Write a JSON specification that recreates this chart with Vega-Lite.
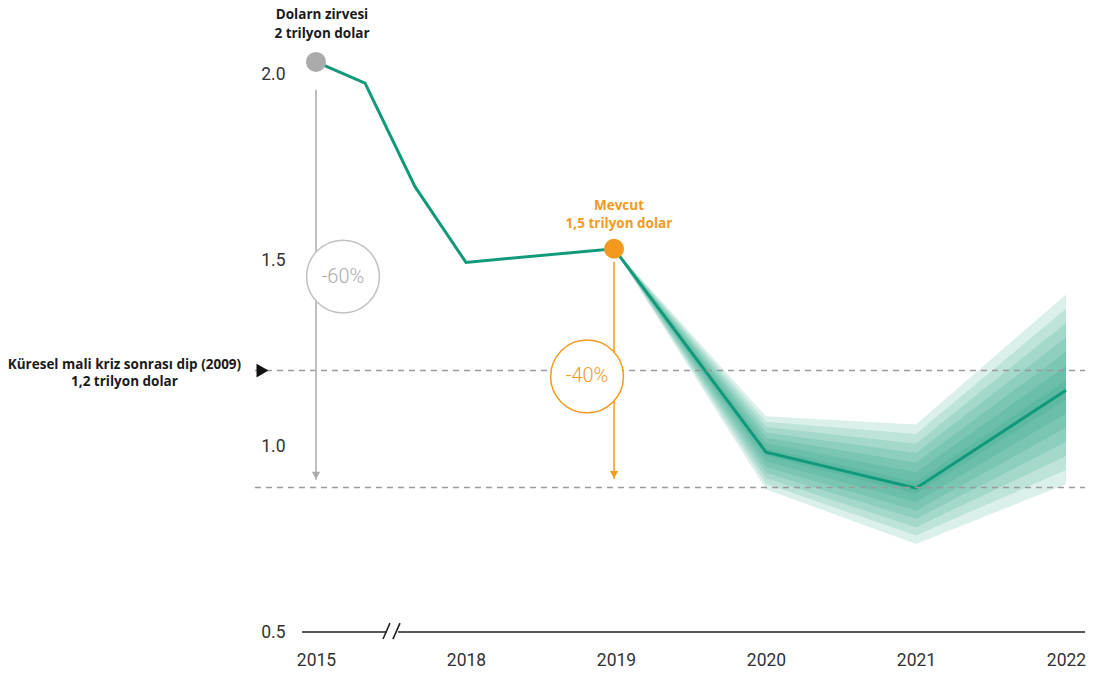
{
  "$schema": "https://vega.github.io/schema/vega-lite/v6.json",
  "autosize": "none",
  "width": 783,
  "height": 621,
  "padding": {"left": 302, "top": 11, "right": 9, "bottom": 41},
  "background": "white",
  "config": {"view": {"stroke": null}, "font": "Roboto"},
  "datasets": {
    "series": [
      {"x": 0, "value": 2.035},
      {"x": 0.327, "value": 1.978},
      {"x": 0.66, "value": 1.699},
      {"x": 1, "value": 1.495},
      {"x": 1.987, "value": 1.532},
      {"x": 3, "value": 0.984},
      {"x": 4, "value": 0.887},
      {"x": 5, "value": 1.151}
    ],
    "bands": [
      {"band": "b1", "x": 1.987, "lo": 1.532, "hi": 1.532},
      {"band": "b1", "x": 3, "lo": 0.884, "hi": 1.081},
      {"band": "b1", "x": 4, "lo": 0.737, "hi": 1.059},
      {"band": "b1", "x": 5, "lo": 0.898, "hi": 1.409},
      {"band": "b2", "x": 1.987, "lo": 1.532, "hi": 1.532},
      {"band": "b2", "x": 3, "lo": 0.899, "hi": 1.066},
      {"band": "b2", "x": 4, "lo": 0.76, "hi": 1.033},
      {"band": "b2", "x": 5, "lo": 0.936, "hi": 1.37},
      {"band": "b3", "x": 1.987, "lo": 1.532, "hi": 1.532},
      {"band": "b3", "x": 3, "lo": 0.914, "hi": 1.052},
      {"band": "b3", "x": 4, "lo": 0.782, "hi": 1.007},
      {"band": "b3", "x": 5, "lo": 0.974, "hi": 1.332},
      {"band": "b4", "x": 1.987, "lo": 1.532, "hi": 1.532},
      {"band": "b4", "x": 3, "lo": 0.929, "hi": 1.037},
      {"band": "b4", "x": 4, "lo": 0.805, "hi": 0.982},
      {"band": "b4", "x": 5, "lo": 1.012, "hi": 1.293},
      {"band": "b5", "x": 1.987, "lo": 1.532, "hi": 1.532},
      {"band": "b5", "x": 3, "lo": 0.944, "hi": 1.023},
      {"band": "b5", "x": 4, "lo": 0.827, "hi": 0.956},
      {"band": "b5", "x": 5, "lo": 1.05, "hi": 1.254},
      {"band": "b6", "x": 1.987, "lo": 1.532, "hi": 1.532},
      {"band": "b6", "x": 3, "lo": 0.959, "hi": 1.008},
      {"band": "b6", "x": 4, "lo": 0.85, "hi": 0.93},
      {"band": "b6", "x": 5, "lo": 1.088, "hi": 1.216},
      {"band": "b7", "x": 1.987, "lo": 1.532, "hi": 1.532},
      {"band": "b7", "x": 3, "lo": 0.974, "hi": 0.994},
      {"band": "b7", "x": 4, "lo": 0.872, "hi": 0.904},
      {"band": "b7", "x": 5, "lo": 1.126, "hi": 1.177}
    ],
    "refs": [
      {"x": -0.407, "x2": 5.127, "value": 1.204},
      {"x": -0.407, "x2": 5.127, "value": 0.889}
    ],
    "axisline": [
      {"x": -0.093, "x2": 0.473, "y": 0.5, "y2": 0.5},
      {"x": 0.547, "x2": 5.127, "y": 0.5, "y2": 0.5},
      {"x": 0.447, "x2": 0.493, "y": 0.481, "y2": 0.524},
      {"x": 0.513, "x2": 0.56, "y": 0.481, "y2": 0.524}
    ],
    "arrows": [
      {"who": "gray", "x": 0, "y": 1.96, "y2": 0.91, "tip": 0.922},
      {"who": "orange", "x": 1.987, "y": 1.497, "y2": 0.912, "tip": 0.924}
    ],
    "circles": [
      {"who": "gray", "x": 0.18, "y": 1.457, "label": "-60%"},
      {"who": "orange", "x": 1.807, "y": 1.188, "label": "-40%"}
    ],
    "points": [
      {"who": "gray", "x": 0, "value": 2.035},
      {"who": "orange", "x": 1.987, "value": 1.532}
    ],
    "notes": [
      {"who": "black", "x": 0.04, "y": 2.162, "text": "Dolarn zirvesi"},
      {"who": "black", "x": 0.04, "y": 2.11, "text": "2 trilyon dolar"},
      {"who": "orange", "x": 2.02, "y": 1.648, "text": "Mevcut"},
      {"who": "orange", "x": 2.02, "y": 1.599, "text": "1,5 trilyon dolar"},
      {"who": "black", "x": -1.277, "y": 1.22, "text": "Küresel mali kriz sonrası dip (2009)"},
      {"who": "black", "x": -1.277, "y": 1.172, "text": "1,2 trilyon dolar"}
    ],
    "marker": [
      {"x": -0.357, "y": 1.204}
    ]
  },
  "layer": [
    {
      "data": {"name": "bands"},
      "mark": {"type": "area", "color": "#119a7a", "opacity": 0.15, "clip": false},
      "encoding": {
        "x": {
          "field": "x", "type": "quantitative",
          "scale": {"domain": [-0.0933, 5.1267], "nice": false, "zero": false},
          "axis": {
            "values": [0, 1, 2, 3, 4, 5],
            "labelExpr": "['2015','2018','2019','2020','2021','2022'][datum.value]",
            "domain": false, "ticks": false, "grid": false, "title": null,
            "labelPadding": 19, "labelFontSize": 17.5, "labelColor": "#333", "labelFont": "Roboto"
          }
        },
        "y": {
          "field": "lo", "type": "quantitative",
          "scale": {"domain": [0.5, 2.172], "nice": false, "zero": false},
          "axis": {
            "values": [0.5, 1, 1.5, 2],
            "format": ".1f",
            "domain": false, "ticks": false, "grid": false, "title": null,
            "labelPadding": 17, "labelFontSize": 17.5, "labelColor": "#333", "labelFont": "Roboto"
          }
        },
        "y2": {"field": "hi"},
        "detail": {"field": "band"}
      }
    },
    {
      "data": {"name": "series"},
      "mark": {"type": "line", "color": "#119a7a", "strokeWidth": 3, "clip": false},
      "encoding": {
        "x": {"field": "x", "type": "quantitative"},
        "y": {"field": "value", "type": "quantitative"}
      }
    },
    {
      "data": {"name": "refs"},
      "mark": {"type": "rule", "color": "#9a9a9a", "strokeWidth": 1.6, "strokeDash": [6, 5], "clip": false},
      "encoding": {
        "x": {"field": "x", "type": "quantitative"},
        "x2": {"field": "x2"},
        "y": {"field": "value", "type": "quantitative"}
      }
    },
    {
      "data": {"name": "axisline"},
      "mark": {"type": "rule", "color": "#222", "strokeWidth": 1.6, "clip": false},
      "encoding": {
        "x": {"field": "x", "type": "quantitative"},
        "x2": {"field": "x2"},
        "y": {"field": "y", "type": "quantitative"},
        "y2": {"field": "y2"}
      }
    },
    {
      "data": {"name": "arrows"},
      "mark": {"type": "rule", "strokeWidth": 1.5, "clip": false},
      "encoding": {
        "x": {"field": "x", "type": "quantitative"},
        "y": {"field": "y", "type": "quantitative"},
        "y2": {"field": "y2"},
        "color": {"field": "who", "type": "nominal", "scale": {"domain": ["gray", "orange", "black"], "range": ["#ababab", "#f39a1e", "#1a1a1a"]}, "legend": null}
      }
    },
    {
      "data": {"name": "arrows"},
      "mark": {"type": "point", "shape": "triangle-down", "filled": true, "opacity": 1, "size": 70, "clip": false},
      "encoding": {
        "x": {"field": "x", "type": "quantitative"},
        "y": {"field": "tip", "type": "quantitative"},
        "color": {"field": "who", "type": "nominal", "legend": null}
      }
    },
    {
      "data": {"name": "circles"},
      "mark": {"type": "point", "shape": "circle", "filled": false, "fill": "white", "fillOpacity": 1, "opacity": 1, "strokeWidth": 1.5, "size": 5300, "clip": false},
      "encoding": {
        "x": {"field": "x", "type": "quantitative"},
        "y": {"field": "y", "type": "quantitative"},
        "stroke": {"field": "who", "type": "nominal", "scale": {"domain": ["gray", "orange"], "range": ["#c2c2c2", "#f39a1e"]}, "legend": null}
      }
    },
    {
      "data": {"name": "circles"},
      "mark": {"type": "text", "fontSize": 20, "font": "Roboto", "fontWeight": 300, "align": "center", "baseline": "middle", "clip": false},
      "encoding": {
        "x": {"field": "x", "type": "quantitative"},
        "y": {"field": "y", "type": "quantitative"},
        "text": {"field": "label"},
        "color": {"field": "who", "type": "nominal", "legend": null}
      }
    },
    {
      "data": {"name": "points"},
      "mark": {"type": "point", "shape": "circle", "filled": true, "opacity": 1, "size": 400, "clip": false},
      "encoding": {
        "x": {"field": "x", "type": "quantitative"},
        "y": {"field": "value", "type": "quantitative"},
        "color": {"field": "who", "type": "nominal", "legend": null}
      }
    },
    {
      "data": {"name": "notes"},
      "mark": {"type": "text", "fontSize": 13.5, "font": "Open Sans", "fontWeight": "bold", "align": "center", "baseline": "middle", "clip": false},
      "encoding": {
        "x": {"field": "x", "type": "quantitative"},
        "y": {"field": "y", "type": "quantitative"},
        "text": {"field": "text"},
        "color": {"field": "who", "type": "nominal", "legend": null}
      }
    },
    {
      "data": {"name": "marker"},
      "mark": {"type": "point", "shape": "triangle-right", "filled": true, "color": "#111", "opacity": 1, "size": 190, "clip": false},
      "encoding": {
        "x": {"field": "x", "type": "quantitative"},
        "y": {"field": "y", "type": "quantitative"}
      }
    }
  ]
}
